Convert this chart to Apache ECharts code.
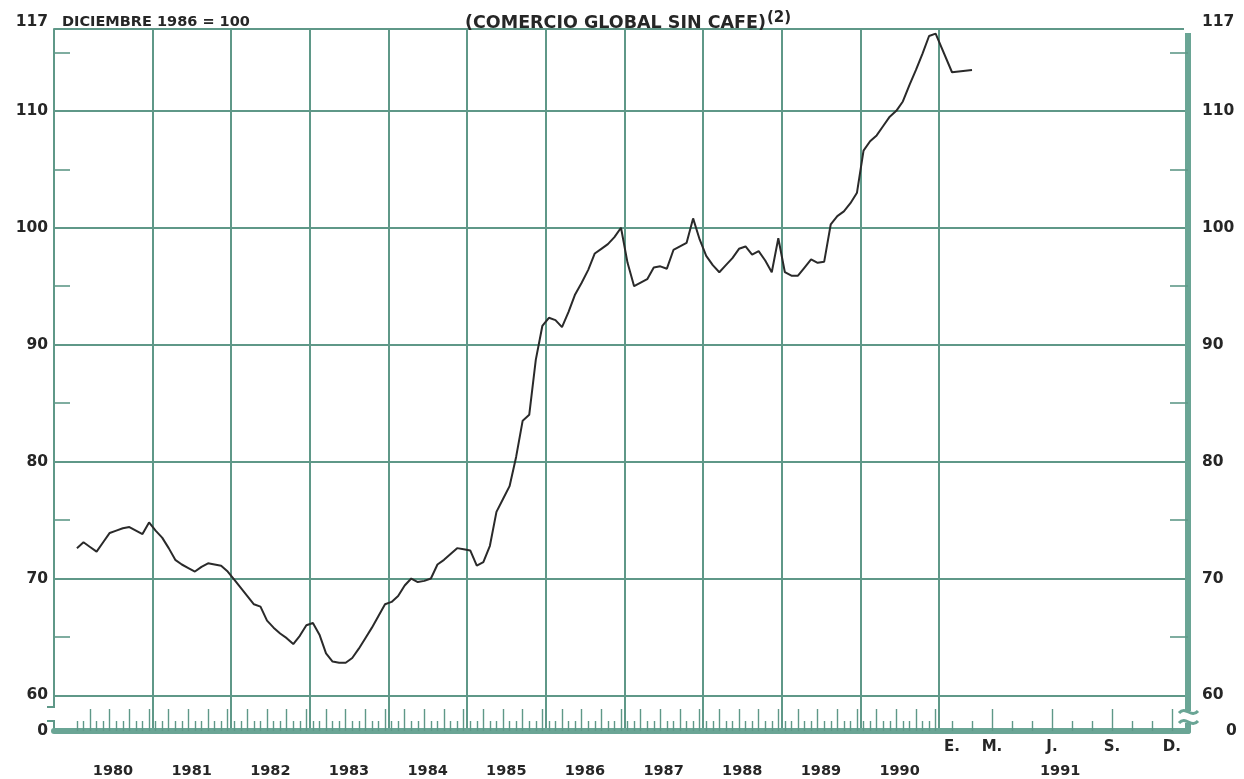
<!DOCTYPE html>
<html><head><meta charset="utf-8">
<script src="https://cdn.jsdelivr.net/npm/echarts@6/dist/echarts.min.js"></script>
<style>html,body{margin:0;padding:0;background:#fff}#c{width:1244px;height:779px}</style>
</head><body><div id="c"></div>
<script>
// ---- data (index, Dic 1986 = 100), monthly ----
const v1980 = [72.6, 73.1, 72.7, 72.3, 73.1, 73.9, 74.1, 74.3, 74.4, 74.1, 73.8, 74.8];
const v1981 = [74.1, 73.5, 72.6, 71.6, 71.2, 70.9, 70.6, 71.0, 71.3, 71.2, 71.1, 70.6];
const v1982 = [69.9, 69.2, 68.5, 67.8, 67.6, 66.4, 65.8, 65.3, 64.9, 64.4, 65.1, 66.0];
const v1983 = [66.2, 65.2, 63.6, 62.9, 62.8, 62.8, 63.2, 64.0, 64.9, 65.8, 66.8, 67.8];
const v1984 = [68.0, 68.5, 69.4, 70.0, 69.7, 69.8, 70.0, 71.2, 71.6, 72.1, 72.6, 72.5];
const v1985 = [72.4, 71.1, 71.4, 72.8, 75.7, 76.8, 77.9, 80.4, 83.5, 84.0, 88.7, 91.6];
const v1986 = [92.3, 92.1, 91.5, 92.8, 94.3, 95.3, 96.4, 97.8, 98.2, 98.6, 99.2, 100.0];
const v1987 = [97.0, 95.0, 95.3, 95.6, 96.6, 96.7, 96.5, 98.1, 98.4, 98.7, 100.8, 99.0];
const v1988 = [97.6, 96.8, 96.2, 96.8, 97.4, 98.2, 98.4, 97.7, 98.0, 97.2, 96.2, 99.1];
const v1989 = [96.2, 95.9, 95.9, 96.6, 97.3, 97.0, 97.1, 100.3, 101.0, 101.4, 102.1, 103.0];
const v1990 = [106.6, 107.4, 107.9, 108.7, 109.5, 110.0, 110.8, 112.2, 113.5, 114.9, 116.4, 116.6];
const v1991 = [113.3, 113.5];

const years = [1980, 1981, 1982, 1983, 1984, 1985, 1986, 1987, 1988, 1989, 1990, 1991];
const yearValues = [v1980, v1981, v1982, v1983, v1984, v1985, v1986, v1987, v1988, v1989, v1990, v1991];
const monthLetters1991 = ['E.', 'M.', 'J.', 'S.', 'D.'];
const monthLetterIdx1991 = [0, 2, 5, 8, 11];
const yLabelValues = [60, 70, 80, 90, 100, 110, 117];
const yMinorValues = [65, 75, 85, 95, 105, 115];

// ---- broken time scale: 1980-1990 one unit per month, 1991 expanded ----
const Y_MIN = 56.96;
function axisPos(year, mi) {
  if (year <= 1990) return (year - 1980) * 12 + mi + 0.5;
  return 134 + 3.05 * mi;
}
function yearCenter(year) {
  if (year <= 1990) return (year - 1980) * 12 + 6;
  return 150.5;
}

const seriesData = [];
years.forEach((y, yi) => yearValues[yi].forEach((v, mi) => seriesData.push([axisPos(y, mi), v])));

const monthTicks = [], quarterTicks = [];
years.forEach(y => { for (let mi = 0; mi < 12; mi++) { const p = axisPos(y, mi); ((mi + 1) % 3 === 0 ? quarterTicks : monthTicks).push(p); } });
const yearBounds = []; for (let k = 1; k <= 11; k++) yearBounds.push(k * 12);
const yearLabelPos = years.map(yearCenter);
const letterPos = monthLetterIdx1991.map(mi => axisPos(1991, mi));
const key = v => v.toFixed(3);
const yearMap = {}; years.forEach((y, i) => yearMap[key(yearLabelPos[i])] = String(y));
const letterMap = {}; monthLetters1991.forEach((l, i) => letterMap[key(letterPos[i])] = l);

const GRID = '#5f9888';
const THICK = '#6aa595';
const TXT = '#262626';
const FONT = '"DejaVu Sans", sans-serif';

const baseX = { type: 'value', min: -3, max: 170, gridIndex: 0, position: 'bottom' };
const baseY = { type: 'value', min: Y_MIN, max: 117, gridIndex: 0 };
const yFmtL = v => v < 59 ? '0' : (v === 117 ? '{t|117}' : String(v));
const yFmtR = v => v < 59 ? '{z|0}' : (v === 117 ? '{t|117}' : String(v));
const yRich = {
  t: { fontSize: 15.5, fontWeight: 'bold', color: TXT, fontFamily: FONT, padding: [0, 0, 14, 0] },
  z: { fontSize: 15.5, fontWeight: 'bold', color: TXT, fontFamily: FONT, padding: [0, 0, 0, 24] }
};
const lbl = { fontSize: 15.5, fontWeight: 'bold', color: TXT, fontFamily: FONT };

const chart = echarts.init(document.getElementById('c'), null, { renderer: 'canvas' });
chart.setOption({
  animation: false,
  backgroundColor: '#ffffff',
  title: [
    { text: 'DICIEMBRE 1986 = 100', left: 57, top: 10,
      textStyle: { fontSize: 14.5, fontWeight: 'bold', color: TXT, fontFamily: FONT } },
    { text: '{a|(COMERCIO GLOBAL SIN CAFE)}{b|(2)}', left: 460, top: 6,
      textStyle: { rich: {
        a: { fontSize: 17.5, fontWeight: 'bold', color: TXT, fontFamily: FONT, verticalAlign: 'bottom' },
        b: { fontSize: 15, fontWeight: 'bold', color: TXT, fontFamily: FONT, verticalAlign: 'top', padding: [0, 0, 6, 1] } } } }
  ],
  grid: { left: 54, right: 56, top: 29, bottom: 48, containLabel: false, outerBoundsMode: 'none' },
  xAxis: [
    Object.assign({}, baseX, {
      axisLine: { show: true, onZero: false, lineStyle: { color: THICK, width: 6 } },
      axisTick: { show: true, inside: true, length: 10, customValues: monthTicks, lineStyle: { color: GRID, width: 1.4 } },
      axisLabel: Object.assign({ show: true, customValues: letterPos, formatter: v => letterMap[key(v)] || '', margin: 9 }, lbl, { fontSize: 15 }),
      splitLine: { show: false }
    }),
    Object.assign({}, baseX, {
      axisLine: { show: false, onZero: false },
      axisTick: { show: true, inside: true, length: 22, customValues: quarterTicks, lineStyle: { color: GRID, width: 1.4 } },
      axisLabel: Object.assign({ show: true, customValues: yearLabelPos, formatter: v => yearMap[key(v)] || '', margin: 33 }, lbl, { fontSize: 14.5 }),
      splitLine: { show: false }
    }),
    Object.assign({}, baseX, {
      axisLine: { show: false, onZero: false },
      axisTick: { show: false, customValues: yearBounds },
      axisLabel: { show: false },
      splitLine: { show: true, lineStyle: { color: GRID, width: 2 } }
    })
  ],
  yAxis: [
    Object.assign({}, baseY, { position: 'left',
      axisLine: { show: true, onZero: false, lineStyle: { color: GRID, width: 2 } },
      axisTick: { show: false, customValues: yLabelValues },
      axisLabel: Object.assign({ customValues: [Y_MIN].concat(yLabelValues), formatter: yFmtL, rich: yRich, margin: 6 }, lbl),
      splitLine: { show: true, lineStyle: { color: GRID, width: 2 } }
    }),
    Object.assign({}, baseY, { position: 'right',
      axisLine: { show: true, onZero: false, lineStyle: { color: THICK, width: 6 } },
      axisTick: { show: true, inside: true, length: 18, customValues: yMinorValues, lineStyle: { color: GRID, width: 1.6 } },
      axisLabel: Object.assign({ customValues: [Y_MIN].concat(yLabelValues), formatter: yFmtR, rich: yRich, margin: 14 }, lbl),
      splitLine: { show: false }
    }),
    Object.assign({}, baseY, { position: 'left',
      axisLine: { show: false, onZero: false },
      axisTick: { show: true, inside: true, length: 16, customValues: yMinorValues, lineStyle: { color: GRID, width: 1.6 } },
      axisLabel: { show: false },
      splitLine: { show: false }
    })
  ],
  series: [{
    type: 'line', xAxisIndex: 0, yAxisIndex: 0, data: seriesData,
    showSymbol: false, symbol: 'none', smooth: false,
    lineStyle: { color: '#2a2a2a', width: 2 }, z: 10
  }],
  graphic: [
    { type: 'rect', shape: { x: 1184, y: 24, width: 9, height: 9 }, style: { fill: '#fff' }, z: 100 },
    { type: 'rect', shape: { x: 49, y: 707, width: 10, height: 14 }, style: { fill: '#fff' }, z: 100 },
    { type: 'line', shape: { x1: 47, y1: 707, x2: 55, y2: 707 }, style: { stroke: GRID, lineWidth: 2 }, z: 101 },
    { type: 'line', shape: { x1: 47, y1: 721, x2: 55, y2: 721 }, style: { stroke: GRID, lineWidth: 2 }, z: 101 },
    { type: 'rect', shape: { x: 1183, y: 711, width: 11, height: 12 }, style: { fill: '#fff' }, z: 100 },
    { type: 'bezierCurve', shape: { x1: 1179, y1: 713, x2: 1198, y2: 711, cpx1: 1186, cpy1: 705, cpx2: 1191, cpy2: 719 }, style: { stroke: THICK, lineWidth: 3, fill: null }, z: 101 },
    { type: 'bezierCurve', shape: { x1: 1179, y1: 723, x2: 1198, y2: 721, cpx1: 1186, cpy1: 715, cpx2: 1191, cpy2: 729 }, style: { stroke: THICK, lineWidth: 3, fill: null }, z: 101 }
  ]
});
</script>
</body></html>
